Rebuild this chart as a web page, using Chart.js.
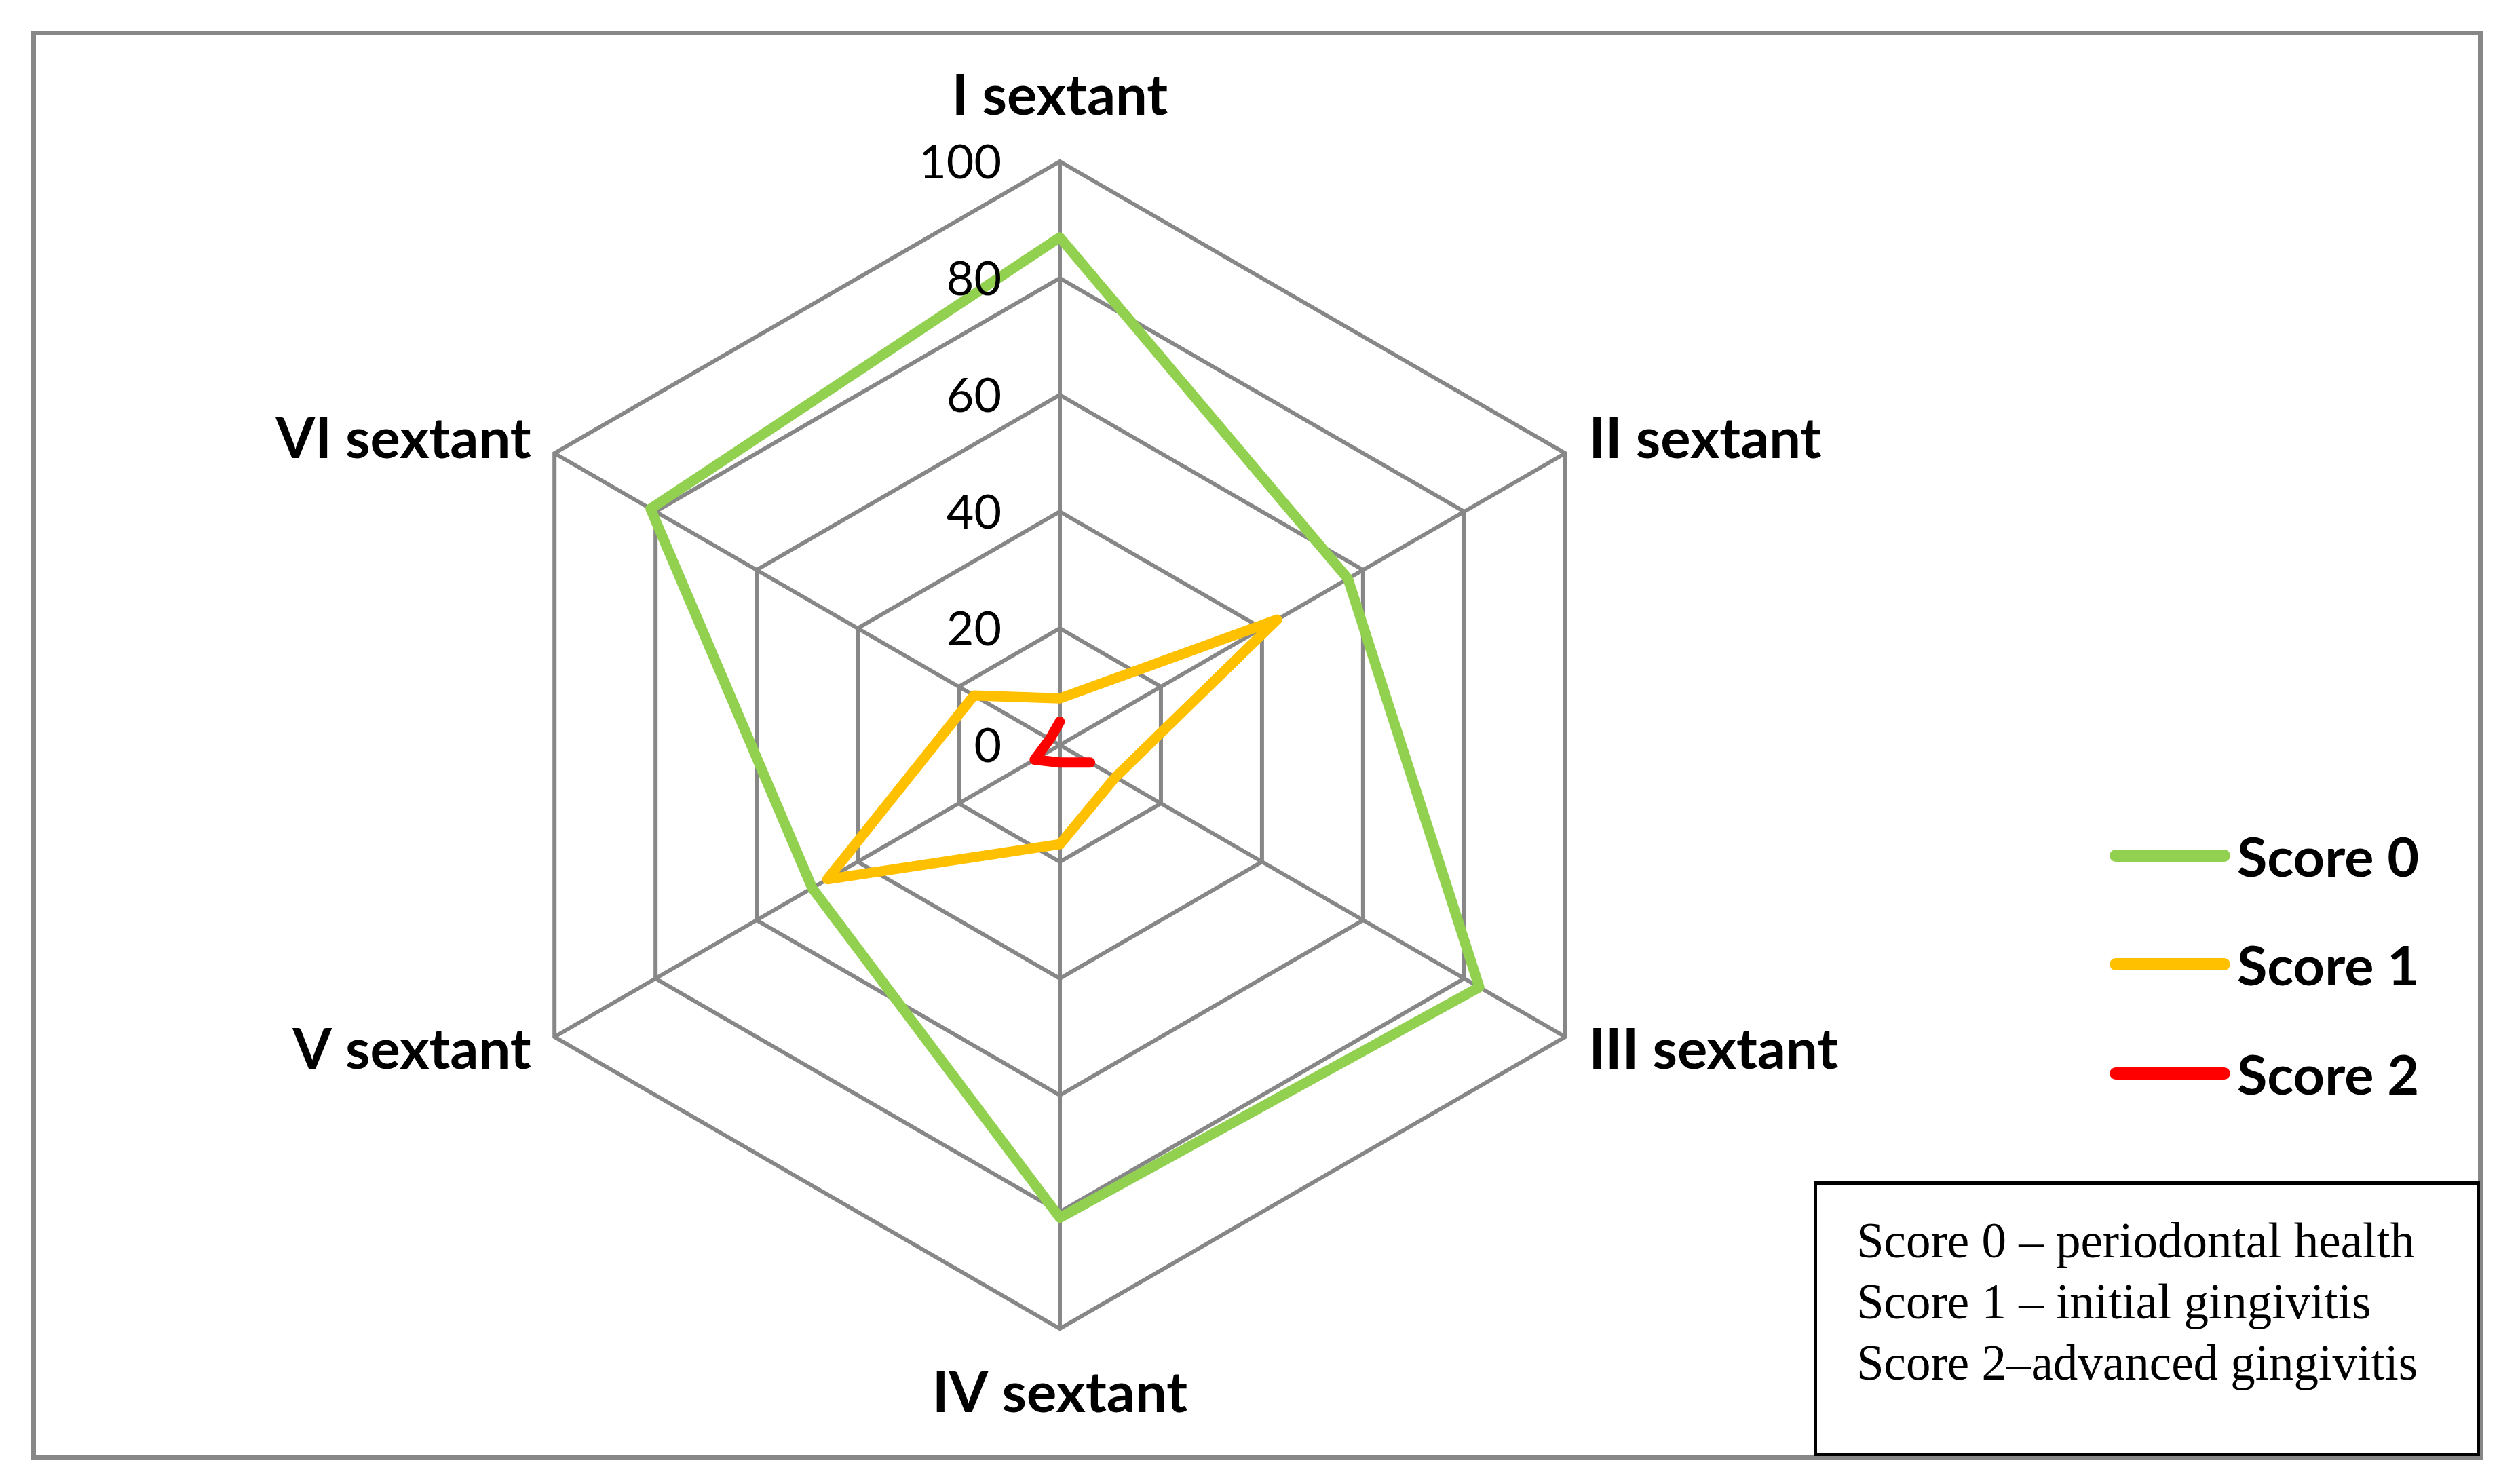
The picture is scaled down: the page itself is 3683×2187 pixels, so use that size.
<!DOCTYPE html>
<html>
<head>
<meta charset="utf-8">
<script src="https://cdn.jsdelivr.net/npm/chart.js@4.4.1/dist/chart.umd.min.js"></script>
<style>
  body { margin: 0; background: #fff; }
  #wrap { position: relative; width: 3683px; height: 2187px; overflow: hidden; background: #fff; }
  #chart { position: absolute; left: 0; top: 0; }
  .frame { position: absolute; left: 46px; top: 45px; width: 3613px; height: 2106px; border: 7px solid #878787; box-sizing: border-box; }
  .legend-item { position: absolute; left: 3109px; height: 96px; }
  .legend-line { position: absolute; left: 0; top: 39px; width: 178px; height: 18px; border-radius: 9px; }
  .legend-text { position: absolute; left: 188px; top: 0; font-family: Lato, sans-serif; font-weight: bold; font-size: 81px; line-height: 96px; white-space: nowrap; color: #000; }
  .note { position: absolute; left: 2673px; top: 1741px; width: 982px; height: 405px; border: 5px solid #000; box-sizing: border-box; background: #fff; }
  .note div { position: absolute; left: 58px; font-family: "Liberation Serif", serif; font-size: 73px; line-height: 90px; white-space: nowrap; color: #000; }
</style>
</head>
<body>
<div id="wrap">
  <div class="frame"></div>
  <canvas id="chart" width="3683" height="2187"></canvas>
  <div id="legend"></div>
  <div class="note">
    <div style="top: 38px">Score 0 – periodontal health</div>
    <div style="top: 128px">Score 1 – initial gingivitis</div>
    <div style="top: 218px">Score 2–advanced gingivitis</div>
  </div>
</div>
<script>
const sextants = ['I sextant', 'II sextant', 'III sextant', 'IV sextant', 'V sextant', 'VI sextant'];
const score0 = [87, 57, 83, 81, 49, 81];
const score1 = [8, 43, 11, 17, 46, 17];
const score2 = [4, null, 6, 3, 5, 2];
const seriesNames = ['Score 0', 'Score 1', 'Score 2'];
const seriesColors = ['#92D050', '#FFC000', '#FF0000'];
const tickValues = [0, 20, 40, 60, 80, 100];

// legend (html)
const legendTops = [1213, 1373, 1534];
const legend = document.getElementById('legend');
seriesNames.forEach((name, i) => {
    const item = document.createElement('div');
    item.className = 'legend-item';
    item.style.top = legendTops[i] + 'px';
    item.innerHTML = '<div class="legend-line" style="background:' + seriesColors[i] + '"></div>' +
        '<div class="legend-text">' + name + '</div>';
    legend.appendChild(item);
});

// labels and tick numbers drawn from the radial scale
const sextantLabels = {
    id: 'sextantLabels',
    afterDraw(chart) {
        const r = chart.scales.r;
        const ctx = chart.ctx;
        ctx.save();
        ctx.fillStyle = '#000';

        ctx.font = '70px Lato';
        ctx.textAlign = 'right';
        ctx.textBaseline = 'middle';
        tickValues.forEach(v => {
            const p = r.getPointPositionForValue(0, v);
            ctx.fillText(String(v), p.x - 86, p.y + 2);
        });

        ctx.font = 'bold 83px Lato';
        chart.data.labels.forEach((label, i) => {
            if (i === 0 || i === 3) {
                const p = r.getPointPosition(i, r.drawingArea + 96);
                ctx.textAlign = 'center';
                ctx.fillText(label, p.x, p.y);
            } else {
                const p = r.getPointPosition(i, r.drawingArea + 40);
                ctx.textAlign = i < 3 ? 'left' : 'right';
                ctx.fillText(label, p.x, p.y);
            }
        });
        ctx.restore();
    }
};

const lineStyle = {
    fill: false,
    borderWidth: 15,
    pointRadius: 0,
    pointHoverRadius: 0,
    tension: 0,
    borderJoinStyle: 'round',
    borderCapStyle: 'round',
    spanGaps: false
};

new Chart(document.getElementById('chart'), {
    type: 'radar',
    data: {
        labels: sextants,
        datasets: [
            Object.assign({ label: seriesNames[0], data: score0, borderColor: seriesColors[0], order: 3 }, lineStyle),
            Object.assign({ label: seriesNames[1], data: score1, borderColor: seriesColors[1], order: 2 }, lineStyle),
            Object.assign({ label: seriesNames[2], data: score2, borderColor: seriesColors[2], order: 1 }, lineStyle)
        ]
    },
    options: {
        responsive: false,
        animation: false,
        devicePixelRatio: 1,
        layout: {
            padding: { left: 702, top: 238, right: 1261, bottom: 229 }
        },
        plugins: {
            legend: { display: false },
            tooltip: { enabled: false }
        },
        scales: {
            r: {
                min: tickValues[0],
                max: tickValues[tickValues.length - 1],
                ticks: { stepSize: tickValues[1] - tickValues[0], display: false },
                grid: { color: '#878787', lineWidth: 6 },
                angleLines: { color: '#878787', lineWidth: 6 },
                pointLabels: { display: false }
            }
        }
    },
    plugins: [sextantLabels]
});
</script>
</body>
</html>
